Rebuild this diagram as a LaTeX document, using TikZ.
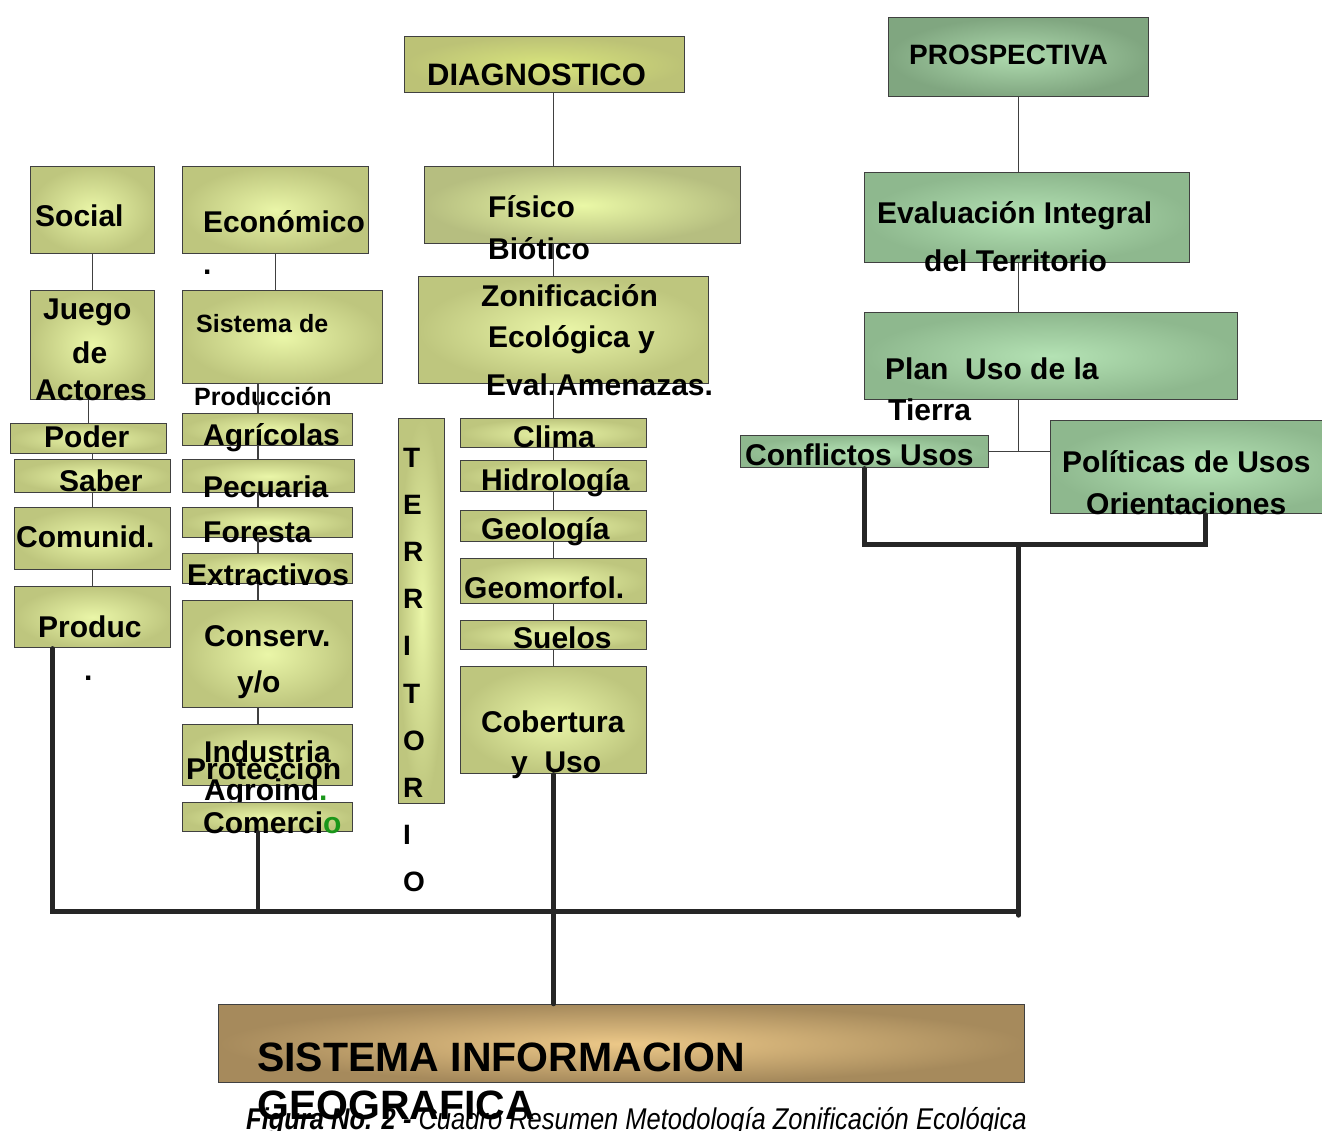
\documentclass[tikz,border=0pt]{standalone}
\usepackage{fontspec}
\setmainfont{Liberation Sans}
\newfontfamily\capfont[FakeStretch=0.85]{Liberation Sans}
\usetikzlibrary{calc}
\definecolor{lineg}{HTML}{404040}
\definecolor{olvE}{HTML}{BEC67E}
\definecolor{olvC}{HTML}{EAF6A8}
\definecolor{fisE}{HTML}{B6BE80}
\definecolor{fisC}{HTML}{EAF8A6}
\definecolor{diaE}{HTML}{BCC276}
\definecolor{diaC}{HTML}{D8E47C}
\definecolor{grnE}{HTML}{8EB88E}
\definecolor{grnC}{HTML}{B4E2B4}
\definecolor{proE}{HTML}{80A680}
\definecolor{proC}{HTML}{AEDAAE}
\definecolor{sigE}{HTML}{A68A5C}
\definecolor{sigC}{HTML}{ECC888}
\definecolor{ogreen}{HTML}{1A961A}

\begin{document}
\begin{tikzpicture}[x=1pt,y=-1pt,
    box/.style={draw=lineg,line width=1.4pt,inner sep=0pt,anchor=north west},
    obox/.style={box,inner color=olvC,outer color=olvE},
    fbox/.style={box,inner color=fisC,outer color=fisE},
    dbox/.style={box,inner color=diaC,outer color=diaE},
    gbox/.style={box,inner color=grnC,outer color=grnE},
    pbox/.style={box,inner color=proC,outer color=proE},
    sbox/.style={box,inner color=sigC,outer color=sigE},
    lbl/.style={anchor=base west,inner sep=0pt,font=\bfseries\fontsize{30}{30}\selectfont},
    conn/.style={draw=lineg,line width=1.4pt},
    bus/.style={draw=black!85,line width=4.5pt,line cap=round}]
  \useasboundingbox (0,0) rectangle (1322,1131);

  % cabeceras
  \node[dbox,minimum width=280pt,minimum height=56pt] (diag) at (404,36) {};
  \node[lbl,font=\bfseries\fontsize{31}{31}\selectfont] (diag-t) at (427,86) {DIAGNOSTICO};
  \node[pbox,minimum width=260pt,minimum height=79pt] (pro) at (888,17) {};
  \node[lbl,font=\bfseries\fontsize{28}{28}\selectfont] (pro-t) at (909,65) {PROSPECTIVA};

  % columna social
  \node[obox,minimum width=124pt,minimum height=87pt] (soc) at (30,166) {};
  \node[lbl] (soc-t) at (35,227) {Social};
  \node[obox,minimum width=124pt,minimum height=109pt] (jue) at (30,290) {};
  \node[lbl] (jue-t1) at (43,320) {Juego};
  \node[lbl] (jue-t2) at (72,363) {de};
  \node[lbl] (jue-t3) at (35,400) {Actores};
  \node[obox,minimum width=156pt,minimum height=30pt] (pod) at (10,423) {};
  \node[lbl] (pod-t) at (44,447) {Poder};
  \node[obox,minimum width=156pt,minimum height=33pt] (sab) at (14,459) {};
  \node[lbl] (sab-t) at (59,491) {Saber};
  \node[obox,minimum width=156pt,minimum height=62pt] (cmu) at (14,507) {};
  \node[lbl] (cmu-t) at (16,547) {Comunid.};
  \node[obox,minimum width=156pt,minimum height=61pt] (prd) at (14,586) {};
  \node[lbl] (prd-t) at (38,637) {Produc};
  \node[lbl] (prd-d) at (84,680) {.};

  % columna economica
  \node[obox,minimum width=186pt,minimum height=87pt] (eco) at (182,166) {};
  \node[lbl] (eco-t) at (203,233) {Económico};
  \node[lbl] (eco-d) at (203,275) {.};
  \node[obox,minimum width=200pt,minimum height=93pt] (sis) at (182,290) {};
  \node[lbl,font=\bfseries\fontsize{25}{25}\selectfont] (sis-t1) at (196,333) {Sistema de};
  \node[lbl,font=\bfseries\fontsize{25}{25}\selectfont] (sis-t2) at (194,405) {Producción};
  \node[obox,minimum width=170pt,minimum height=32pt] (agr) at (182,413) {};
  \node[lbl] (agr-t) at (203,445) {Agrícolas};
  \node[obox,minimum width=172pt,minimum height=33pt] (pec) at (182,459) {};
  \node[lbl] (pec-t) at (203,497) {Pecuaria};
  \node[obox,minimum width=170pt,minimum height=30pt] (fst) at (182,507) {};
  \node[lbl] (fst-t) at (203,542) {Foresta};
  \node[obox,minimum width=170pt,minimum height=30pt] (ext) at (182,553) {};
  \node[lbl] (ext-t) at (187,585) {Extractivos};
  \node[obox,minimum width=170pt,minimum height=107pt] (cns) at (182,600) {};
  \node[lbl] (cns-t1) at (204,646) {Conserv.};
  \node[lbl] (cns-t2) at (237,692) {y/o};
  \node[obox,minimum width=170pt,minimum height=61pt] (ind) at (182,724) {};
  \node[lbl] (ind-t1) at (204,762) {Industria};
  \node[lbl] (ind-t2) at (186,779) {Proteccion};
  \node[lbl] (ind-t3) at (204,800) {Agroind\textcolor{ogreen}{.}};
  \node[obox,minimum width=170pt,minimum height=29pt] (cmr) at (182,802) {};
  \node[lbl] (cmr-t) at (203,833) {Comerci\textcolor{ogreen}{o}};

  % territorio
  \node[obox,minimum width=46pt,minimum height=385pt] (ter) at (398,418) {};
  \foreach \c [count=\i from 0] in {T,E,R,R,I,T,O,R,I,O}
    \node[lbl,font=\bfseries\fontsize{28}{28}\selectfont] (ter-\i) at (403,{467+47.2*\i}) {\c};

  % columna fisico biotica
  \node[fbox,minimum width=316pt,minimum height=77pt] (fis) at (424,166) {};
  \node[lbl] (fis-t1) at (488,218) {Físico};
  \node[lbl] (fis-t2) at (488,260) {Biótico};
  \node[obox,minimum width=290pt,minimum height=107pt] (zon) at (418,276) {};
  \node[lbl] (zon-t1) at (481,307) {Zonificación};
  \node[lbl] (zon-t2) at (488,348) {Ecológica y};
  \node[lbl] (zon-t3) at (486,395) {Eval.Amenazas.};
  \node[obox,minimum width=186pt,minimum height=29pt] (cli) at (460,418) {};
  \node[lbl] (cli-t) at (513,447) {Clima};
  \node[obox,minimum width=186pt,minimum height=31pt] (hid) at (460,460) {};
  \node[lbl] (hid-t) at (481,490) {Hidrología};
  \node[obox,minimum width=186pt,minimum height=31pt] (geo) at (460,510) {};
  \node[lbl] (geo-t) at (481,539) {Geología};
  \node[obox,minimum width=186pt,minimum height=45pt] (gmf) at (460,558) {};
  \node[lbl] (gmf-t) at (464,598) {Geomorfol.};
  \node[obox,minimum width=186pt,minimum height=29pt] (sue) at (460,620) {};
  \node[lbl] (sue-t) at (513,648) {Suelos};
  \node[obox,minimum width=186pt,minimum height=107pt] (cob) at (460,666) {};
  \node[lbl] (cob-t1) at (481,732) {Cobertura};
  \node[lbl] (cob-t2) at (511,772) {y\ \ Uso};

  % prospectiva
  \node[gbox,minimum width=325pt,minimum height=90pt] (eva) at (864,172) {};
  \node[lbl] (eva-t1) at (877,224) {Evaluación Integral};
  \node[lbl] (eva-t2) at (924,272) {del Territorio};
  \node[gbox,minimum width=373pt,minimum height=87pt] (pln) at (864,312) {};
  \node[lbl] (pln-t1) at (885,380) {Plan\ \ Uso de la};
  \node[lbl] (pln-t2) at (888,420) {Tierra};
  \node[gbox,minimum width=248pt,minimum height=32pt] (cfl) at (740,435) {};
  \node[lbl] (cfl-t) at (745,465) {Conflictos Usos};
  \node[gbox,minimum width=310pt,minimum height=93pt] (pol) at (1050,420) {};
  \node[lbl] (pol-t1) at (1062,472) {Políticas de Usos};
  \node[lbl] (pol-t2) at (1086,514) {Orientaciones};

  % SIG
  \node[sbox,minimum width=806pt,minimum height=78pt] (sig) at (218,1004) {};
  \node[lbl,font=\bfseries\fontsize{41}{41}\selectfont] (sig-t1) at (257,1071) {SISTEMA INFORMACION};
  \node[lbl,font=\bfseries\fontsize{41}{41}\selectfont] (sig-t2) at (257,1119) {GEOGRAFICA};
  \node[anchor=base west,inner sep=0pt,font=\capfont\itshape\fontsize{30}{30}\selectfont] (cap) at (246,1129)
    {{\bfseries Figura No. 2 -} Cuadro Resumen Metodología Zonificación Ecológica};

  % conectores
  \coordinate (ecol) at (258,0);
  \draw[conn] (diag.south -| cli.north) -- (fis.north -| cli.north);
  \draw[conn] (fis.south -| cli.north) -- (zon.north -| cli.north);
  \draw[conn] (zon.south -| cli.north) -- (cli.north);
  \foreach \a/\b in {cli/hid,hid/geo,geo/gmf,gmf/sue,sue/cob}
    \draw[conn] (\a.south) -- (\b.north);
  \draw[conn] (soc.south) -- (jue.north);
  \draw[conn] (eco.south) -- (eco.south |- sis.north);
  \draw[conn] (pod.north |- jue.south) -- (pod.north);
  \foreach \a/\b in {pod/sab,sab/cmu,cmu/prd}
    \draw[conn] (\a.south -| sab.north) -- (\b.north -| sab.north);
  \foreach \a/\b in {sis/agr,agr/pec,pec/fst,fst/ext,ext/cns,cns/ind}
    \draw[conn] (\a.south -| ecol) -- (\b.north -| ecol);
  \draw[conn] (pro.south) -- (pro.south |- eva.north);
  \draw[conn] (pro.south |- eva.south) -- (pro.south |- pln.north);
  \draw[conn] (pro.south |- pln.south) -- (pro.south |- cfl.east);
  \draw[conn] (cfl.east) -- (cfl.east -| pol.west);

  % lineas gruesas
  \draw[bus] (cob.south) -- (cob.south |- sig.north);
  \draw[bus] (cfl.south) -- ++(0,76) coordinate (cpbar) -| (pol.south);
  \draw[bus] ([xshift=-40pt]prd.south) -- ++(0,263) coordinate (busL) -- (busL -| pro.south) coordinate (busR);
  \draw[bus] (cmr.south -| ecol) -- (ecol |- busL);
  \draw[bus] (cpbar -| pro.south) -- ([yshift=-4pt]busR);
\end{tikzpicture}
\end{document}
